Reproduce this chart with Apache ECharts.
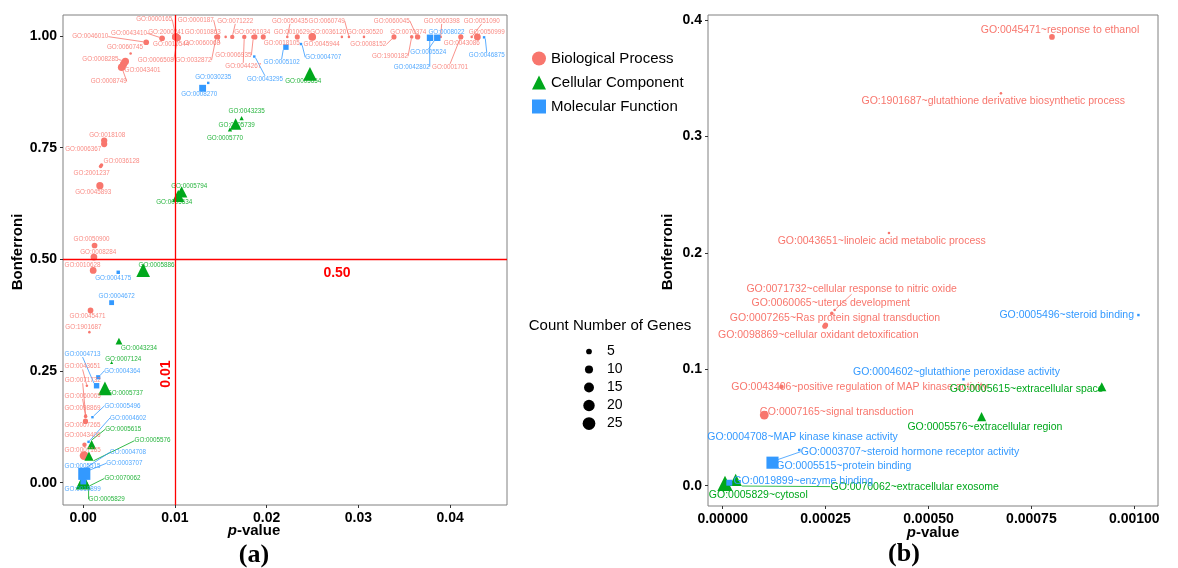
<!DOCTYPE html>
<html><head><meta charset="utf-8">
<script src="https://cdn.jsdelivr.net/npm/echarts@6/dist/echarts.min.js"></script>
<style>html,body{margin:0;padding:0;background:#fff}#c{width:1178px;height:568px}</style>
</head><body><div id="c"></div>
<script>
// ---------------- DATA ----------------
const goIds = [
 'GO:0046010','GO:0043410','GO:0060745','GO:0008285','GO:0043401','GO:0008749','GO:0000165','GO:2000241','GO:0010544','GO:0006508',
 'GO:0000187','GO:0010863','GO:0060068','GO:0032872','','GO:0071222','GO:0044267','GO:0006935','GO:0051034','GO:0018105',
 'GO:0050435','GO:0010629','GO:0045944','GO:0036120','GO:0060749','GO:0030520','GO:0008152','GO:1900182','GO:0070374','GO:0060045',
 'GO:0060398','GO:0001701','GO:0043086','GO:0051090','GO:0050999','GO:0042802','GO:0005524','GO:0008022','GO:0046875','GO:0005102',
 'GO:0004707','GO:0043295','GO:0030235','GO:0008270','GO:0005654','GO:0043235','GO:0005739','GO:0005770','GO:0018108','GO:0006367',
 'GO:0036128','GO:2001237','GO:0045893','GO:0005794','GO:0005634','GO:0050900','GO:0008284','GO:0010628','GO:0004175','GO:0005886',
 'GO:0004672','GO:0045471','GO:1901687','GO:0043234','GO:0007124','GO:0004713','GO:0004364','GO:0005737','GO:0043651','GO:0071732',
 'GO:0060065','GO:0007265','GO:0098869','GO:0005496','GO:0004602','GO:0043406','GO:0005615','GO:0007165','GO:0005576','GO:0004708',
 'GO:0003707','GO:0005515','GO:0019899','GO:0005829','GO:0070062'
];
const pValues = [
 0.00687,0.0086,0.00517,0.0046,0.0044,0.0042,0.0101,0.0100,0.0102,0.0103,
 0.01466,0.0146,0.0147,0.0145,0.01553,0.01625,0.01756,0.01855,0.01872,0.01963,
 0.02225,0.02334,0.02497,0.0282,0.02897,0.03061,0.03388,0.03581,0.03647,0.0364,
 0.03897,0.04116,0.0412,0.04235,0.04297,0.03781,0.0386,0.03857,0.0437,0.0221,
 0.02374,0.01865,0.01363,0.01302,0.02472,0.01727,0.01662,0.0160,0.00229,0.00229,
 0.0020,0.0019,0.00182,0.01073,0.01036,0.00124,0.00117,0.00109,0.00382,0.00654,
 0.0031,0.0008,0.000676,0.0039,0.0031,0.00146,0.00164,0.00237,0.000404,0.000272,
 0.000265,0.00025,0.000248,0.00101,0.000585,0.000143,0.000921,0.000101,0.000629,0.000186,
 0.00013,0.000121,0.000016,0.0000056,0.0000316
];
const bonferroni = [
 0.986,0.995,0.961,0.943,0.937,0.930,0.998,0.998,0.997,0.996,
 0.998,0.998,0.998,0.998,0.998,0.998,0.998,0.998,0.998,0.998,
 0.998,0.998,0.998,0.998,0.998,0.998,0.998,0.998,0.998,0.998,
 0.998,0.998,0.998,0.998,0.998,0.996,0.996,0.997,0.997,0.975,
 0.982,0.954,0.895,0.883,0.915,0.816,0.803,0.791,0.766,0.758,
 0.711,0.708,0.665,0.651,0.642,0.531,0.505,0.475,0.471,0.476,
 0.403,0.3855,0.337,0.317,0.269,0.217,0.236,0.211,0.217,0.151,
 0.148,0.138,0.137,0.1466,0.0914,0.085,0.085,0.0607,0.0593,0.0307,
 0.021,0.0198,0.0026,0.002,0.005
];
const geneCounts = [
 5,5,1,8,8,9,9,5,4,7,
 4,3,3,3,1,3,3,3,4,4,
 1,4,9,1,1,1,4,2,4,3,
 1,4,3,1,7,7,7,3,1,5,
 1,1,1,8,20,2,14,2,6,6,
 2,2,8,14,16,5,7,7,2,20,
 4,5,1,5,1,5,3,20,1,1,
 2,4,4,1,1,3,9,12,9,1,
 2,25,6,25,16
];
const categories = [
 'BP','BP','BP','BP','BP','BP','BP','BP','BP','BP',
 'BP','BP','BP','BP','BP','BP','BP','BP','BP','BP',
 'BP','BP','BP','BP','BP','BP','BP','BP','BP','BP',
 'BP','BP','BP','BP','BP','MF','MF','MF','MF','MF',
 'MF','MF','MF','MF','CC','CC','CC','CC','BP','BP',
 'BP','BP','BP','CC','CC','BP','BP','BP','MF','CC',
 'MF','BP','BP','CC','CC','MF','MF','CC','BP','BP',
 'BP','BP','BP','MF','MF','BP','CC','BP','CC','MF',
 'MF','MF','MF','CC','CC'
];
const termNames = {
 'GO:0045471':'response to ethanol','GO:1901687':'glutathione derivative biosynthetic process',
 'GO:0043651':'linoleic acid metabolic process','GO:0071732':'cellular response to nitric oxide',
 'GO:0060065':'uterus development','GO:0007265':'Ras protein signal transduction',
 'GO:0098869':'cellular oxidant detoxification','GO:0005496':'steroid binding',
 'GO:0004602':'glutathione peroxidase activity','GO:0043406':'positive regulation of MAP kinase activity',
 'GO:0005615':'extracellular space','GO:0007165':'signal transduction','GO:0005576':'extracellular region',
 'GO:0004708':'MAP kinase kinase activity','GO:0003707':'steroid hormone receptor activity',
 'GO:0005515':'protein binding','GO:0019899':'enzyme binding','GO:0005829':'cytosol',
 'GO:0070062':'extracellular exosome'
};
const categoryKeys = ['BP','CC','MF'];
const categoryNames = ['Biological Process','Cellular Component','Molecular Function'];
const sizeBreaks = [5,10,15,20,25];
const xTicksA = [0,0.01,0.02,0.03,0.04];
const yTicksA = [0,0.25,0.5,0.75,1.0];
const xTicksB = [0,0.00025,0.0005,0.00075,0.001];
const yTicksB = [0,0.1,0.2,0.3,0.4];
const cutoffP = 0.01;
const cutoffB = 0.5;
const zoomMaxP = 0.00106, zoomMaxB = 0.4;

// ---------------- STYLE (label offsets in px: dx, dy, guide line) ----------------
const labelOffsetsA = {
 'GO:0046010':[-56,-5.6,1],'GO:0043410':[-33,-5,1],'GO:0060745':[-5.7,-6,0],'GO:0008285':[-25,-2,1],
 'GO:0043401':[19,6,0],'GO:0008749':[-13,14,1],'GO:0000165':[-21.6,-17.3,1],'GO:2000241':[-8.7,-5,0],
 'GO:0010544':[-5.6,7,0],'GO:0006508':[-22,22.4,1],'GO:0000187':[-22,-16.7,1],'GO:0010863':[-14.4,-4.4,0],
 'GO:0060068':[-16,6.6,1],'GO:0032872':[-22.7,23.3,1],'GO:0071222':[3,-16,1],'GO:0044267':[-1,29,1],
 'GO:0006935':[-20,18.3,1],'GO:0051034':[-2.7,-4.4,0],'GO:0018105':[18.4,6.6,0],'GO:0050435':[2.7,-16,1],
 'GO:0010629':[-5.6,-5,0],'GO:0045944':[9.4,7.6,0],'GO:0036120':[-13.7,-4.4,0],'GO:0060749':[-22.3,-16,1],
 'GO:0030520':[1,-4.4,0],'GO:0008152':[-25.7,7.6,1],'GO:1900182':[-21.7,19.4,1],'GO:0070374':[-9.4,-4.4,0],
 'GO:0060045':[-25.3,-16,1],'GO:0060398':[1,-16,1],'GO:0001701':[-10.7,30,1],'GO:0043086':[0.7,6.6,0],
 'GO:0051090':[10,-16,1],'GO:0050999':[9.4,-4.4,0],'GO:0042802':[-18.3,29,1],'GO:0005524':[-9,14.6,1],
 'GO:0008022':[9.4,-5.4,0],'GO:0046875':[2.7,18.3,1],'GO:0005102':[-4.3,15,1],'GO:0004707':[22.3,13.3,1],
 'GO:0043295':[10.7,22.3,1],'GO:0030235':[5,-5.4,0],'GO:0008270':[-3.4,6.4,0],'GO:0005654':[-6.7,7,0],
 'GO:0043235':[5,-6.6,0],'GO:0005739':[1,1.7,0],'GO:0005770':[-5,9,0],'GO:0018108':[3,-5.7,0],
 'GO:0006367':[-21,5.3,0],'GO:0036128':[20,-4.3,0],'GO:2001237':[-9,7,0],'GO:0045893':[-6.7,7,0],
 'GO:0005794':[7.6,-5.4,0],'GO:0005634':[-4,6,0],'GO:0050900':[-3,-6,0],'GO:0008284':[4.3,-4.6,0],
 'GO:0010628':[-10.6,-5.7,0],'GO:0004175':[-5,6.4,0],'GO:0005886':[13.4,-4.3,0],'GO:0004672':[5,-6.7,0],
 'GO:0045471':[-3,5.3,0],'GO:1901687':[-6,-5,0],'GO:0043234':[20,6.7,0],'GO:0007124':[11.6,-3.7,0],
 'GO:0004713':[-14,-31.7,1],'GO:0043651':[-4.3,-19.3,1],'GO:0004364':[24,-6.3,1],'GO:0071732':[-3,-35,1],
 'GO:0005737':[20,5,0],'GO:0060065':[-3,-20.6,1],'GO:0098869':[-3,-13,0],'GO:0005496':[30,-11.3,1],
 'GO:0007265':[-3,4,0],'GO:0004602':[39.6,-24,1],'GO:0005615':[31.6,-15.4,1],'GO:0043406':[-2,-9,0],
 'GO:0005576':[63.6,-15.5,1],'GO:0007165':[-1.5,-5.6,0],'GO:0004708':[43,-16.7,1],'GO:0003707':[40,-10,1],
 'GO:0005515':[-1.7,-8,0],'GO:0070062':[39,-2,1],'GO:0019899':[-0.7,7.5,0],'GO:0005829':[23.4,17.5,1]
};
const labelOffsetsB = {
 'GO:0045471':[8,-6.7,0],'GO:1901687':[-7.7,7.7,0],'GO:0043651':[-7.3,8.4,0],'GO:0071732':[17,-21.2,1],
 'GO:0060065':[-1,-10.7,0],'GO:0007265':[9.4,-7.1,0],'GO:0098869':[-6.5,8.5,0],'GO:0005496':[-71.7,0,0],
 'GO:0004602':[-7,-7.6,0],'GO:0043406':[78,0.7,0],'GO:0005615':[-75,2.3,0],'GO:0007165':[72.3,-2.7,0],
 'GO:0005576':[3.3,10.7,0],'GO:0004708':[3.3,-12.7,0],'GO:0003707':[133.8,-9.6,1],'GO:0005515':[71.3,3.3,0],
 'GO:0019899':[74,-2,0],'GO:0005829':[33.3,11.7,0],'GO:0070062':[179,6.7,1]
};
const FONT = '"Liberation Sans", Arial, Helvetica, sans-serif';
const catColor = {BP:'#F8766D', CC:'#00A81C', MF:'#3399FF'};
const catSymbol = {BP:'circle', CC:'triangle', MF:'rect'};
const symScale = {BP:1, CC:1.2, MF:0.95};
function sizeOf(c){ return 2.55*Math.sqrt(c); }

function buildData(panel, key){
  const offs = panel==='a' ? labelOffsetsA : labelOffsetsB;
  const out = [];
  for (let i=0;i<goIds.length;i++){
    if (categories[i]!==key) continue;
    if (panel==='b' && !(pValues[i] < zoomMaxP && bonferroni[i] < zoomMaxB)) continue;
    const id = goIds[i];
    const o = offs[id];
    out.push({
      name: panel==='a' ? id : (id + '~' + termNames[id]),
      value: [pValues[i], bonferroni[i], geneCounts[i]],
      labelLine: {show: !!(o && o[2])}
    });
  }
  return out;
}

const series = [];
['a','b'].forEach((panel, pi)=>{
  categoryKeys.forEach((k, ci)=>{
    const offs = panel==='a' ? labelOffsetsA : labelOffsetsB;
    const s = {
      type:'scatter', name: categoryNames[ci], xAxisIndex: pi, yAxisIndex: pi,
      symbol: catSymbol[k],
      symbolSize: v => sizeOf(v[2]) * symScale[k],
      itemStyle: {color: catColor[k], opacity: 1},
      data: buildData(panel, k),
      label: {show:true, position:'inside', formatter:'{b}', color: catColor[k],
              fontSize: panel==='a' ? 6.3 : 10.5, fontFamily: FONT,
              opacity: panel==='a' ? 0.85 : 1},
      labelLine: {show:false, lineStyle:{color: catColor[k], width: 0.8}},
      labelLayout: p => { const id = (p.text||'').slice(0,10); const o = offs[id]; return o ? {dx:o[0], dy:o[1]} : {}; },
      emphasis: {disabled: true},
      animation: false, z: 3
    };
    if (panel==='a' && ci===0){
      s.markLine = {silent:true, symbol:'none', animation:false,
        lineStyle:{color:'#FF0000', type:'solid', width:1.3}, label:{show:false},
        data:[{xAxis: cutoffP},{yAxis: cutoffB}]};
    }
    series.push(s);
  });
});

const boldLabel = {fontWeight:'bold', fontSize:14, color:'#000', fontFamily: FONT};
function makeAxis(gridIndex, min, max, ticks, digits){
  return {
    type:'value', gridIndex:gridIndex, min:min, max:max,
    axisLine:{show:false, onZero:false}, splitLine:{show:false},
    axisTick:{show:true, length:3, inside:false, lineStyle:{color:'#333'}, customValues:ticks},
    axisLabel:Object.assign({customValues:ticks, margin:6, formatter:v=>v.toFixed(digits)}, boldLabel)
  };
}

const option = {
  backgroundColor:'#fff', animation:false,
  grid:[
    {left:63, top:15, width:444, height:490, show:true, borderColor:'#808080', borderWidth:1},
    {left:708, top:15, width:450, height:491, show:true, borderColor:'#808080', borderWidth:1}
  ],
  xAxis:[
    makeAxis(0, -0.0022, 0.0462, xTicksA, 2),
    makeAxis(1, -0.0000357, 0.0010576, xTicksB, 5)
  ],
  yAxis:[
    makeAxis(0, -0.05, 1.047, yTicksA, 2),
    makeAxis(1, -0.0174, 0.4043, yTicksB, 1)
  ],
  legend:{
    data: categoryNames, orient:'vertical', left:527, top:46, itemWidth:14, itemHeight:14, itemGap:9,
    textStyle:{fontSize:15, color:'#000', fontFamily: FONT, lineHeight:15, padding:[0,0,0,0]},
    selectedMode:false
  },
  series: series
};

const chart = echarts.init(document.getElementById('c'), null, {renderer:'canvas'});
chart.setOption(option);

// annotations / titles
const g = [];
function txt(x, y, text, style, rotation){
  g.push({type:'text', x:x, y:y, rotation: rotation||0, silent:true,
    style:Object.assign({text:text, align:'center', verticalAlign:'middle', fontFamily:FONT, fill:'#000'}, style)});
}
const pLine = chart.convertToPixel({gridIndex:0}, [0.02767, cutoffB]);
txt(pLine[0], pLine[1]+14, cutoffB.toFixed(2), {fontSize:14, fontWeight:'bold', fill:'#FF0000'});
const vLine = chart.convertToPixel({gridIndex:0}, [cutoffP, 0.243]);
txt(vLine[0]-8.5, vLine[1], cutoffP.toFixed(2), {fontSize:14, fontWeight:'bold', fill:'#FF0000'}, Math.PI/2);
// axis titles
const pvRich = {i:{fontStyle:'italic', fontWeight:'bold', fontSize:15, fontFamily:FONT}, n:{fontWeight:'bold', fontSize:15, fontFamily:FONT}};
txt(254, 531, '{i|p}{n|-value}', {rich:pvRich});
txt(933, 533, '{i|p}{n|-value}', {rich:pvRich});
txt(18, 252, 'Bonferroni', {fontSize:15, fontWeight:'bold'}, Math.PI/2);
txt(668, 252, 'Bonferroni', {fontSize:15, fontWeight:'bold'}, Math.PI/2);
txt(254, 555, '(a)', {fontSize:26, fontWeight:'bold', fontFamily:'"Liberation Serif", "DejaVu Serif", serif'});
txt(904, 554, '(b)', {fontSize:26, fontWeight:'bold', fontFamily:'"Liberation Serif", "DejaVu Serif", serif'});
// size legend
txt(610, 326, 'Count Number of Genes', {fontSize:15});
const sizeY = [351.5, 369.5, 387.5, 405.5, 423.5];
sizeBreaks.forEach((b, i)=>{
  const d = sizeOf(b);
  g.push({type:'circle', silent:true, shape:{cx:589, cy:sizeY[i], r:d/2}, style:{fill:'#000'}});
  g.push({type:'text', silent:true, x:607, y:sizeY[i], style:{text:String(b), align:'left', verticalAlign:'middle', fontSize:14, fontFamily:FONT, fill:'#000'}});
});
chart.setOption({graphic: g});
</script>
</body></html>
